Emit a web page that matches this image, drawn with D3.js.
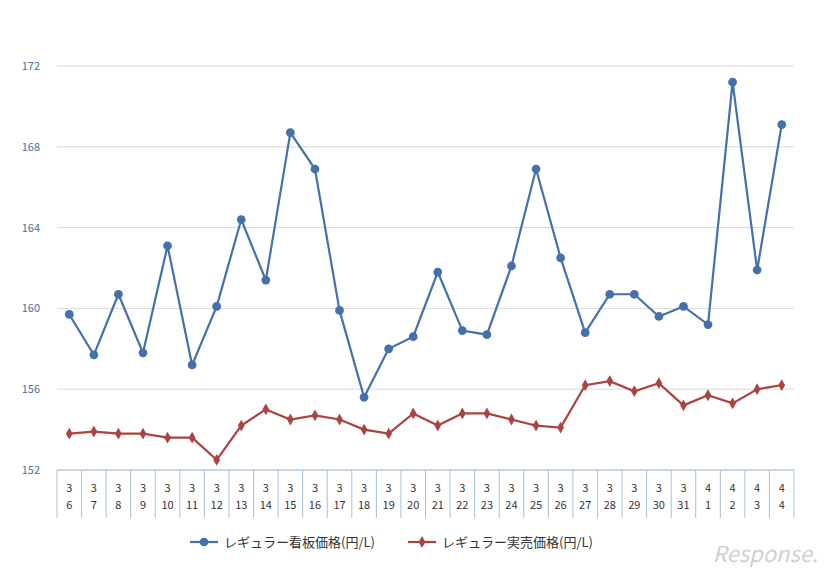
<!DOCTYPE html><html><head><meta charset="utf-8"><script src="https://cdn.jsdelivr.net/npm/d3@7"></script>
<style>body{margin:0;background:#fff}text{font-family:"Noto Sans CJK JP","DejaVu Sans",sans-serif}</style></head><body><svg id="c" width="830" height="575"></svg><script>
const months=[3,3,3,3,3,3,3,3,3,3,3,3,3,3,3,3,3,3,3,3,3,3,3,3,3,3,4,4,4,4];
const days=[6,7,8,9,10,11,12,13,14,15,16,17,18,19,20,21,22,23,24,25,26,27,28,29,30,31,1,2,3,4];
const signPrice=[159.7,157.7,160.7,157.8,163.1,157.2,160.1,164.4,161.4,168.7,166.9,159.9,155.6,158.0,158.6,161.8,158.9,158.7,162.1,166.9,162.5,158.8,160.7,160.7,159.6,160.1,159.2,171.2,161.9,169.1];
const actualPrice=[153.8,153.9,153.8,153.8,153.6,153.6,152.5,154.2,155.0,154.5,154.7,154.5,154.0,153.8,154.8,154.2,154.8,154.8,154.5,154.2,154.1,156.2,156.4,155.9,156.3,155.2,155.7,155.3,156.0,156.2];
const yTicks=[152,156,160,164,168,172];
const seriesNames=["レギュラー看板価格(円/L)","レギュラー実売価格(円/L)"];
const colors=["#4470ab","#aa4443"];
const svg=d3.select("#c");
const L=57,R=794,T=66,B=470;
const idx=d3.range(days.length);
const x=d3.scaleBand().domain(idx).range([L,R]);
const y=d3.scaleLinear().domain([152,172]).range([B,T]);
svg.append("g").selectAll("line").data(yTicks).join("line").attr("x1",L).attr("x2",R).attr("y1",d=>y(d)).attr("y2",d=>y(d)).attr("stroke","#d9d9d9");
svg.append("g").selectAll("text").data(yTicks).join("text").attr("x",40).attr("y",d=>y(d)+4).attr("text-anchor","end").attr("font-size",11).attr("fill","#4a6fa5").text(d=>d);
svg.append("line").attr("x1",L).attr("x2",R).attr("y1",B).attr("y2",B).attr("stroke","#a6c0dd");
svg.append("g").selectAll("line").data(d3.range(days.length+1)).join("line").attr("x1",i=>L+i*x.step()).attr("x2",i=>L+i*x.step()).attr("y1",B).attr("y2",518).attr("stroke","#a6c0dd");
const xl=svg.append("g").selectAll("g").data(idx).join("g");
xl.append("text").attr("x",i=>x(i)+x.bandwidth()/2).attr("y",492).attr("text-anchor","middle").attr("font-size",11).attr("fill","#333").text(i=>months[i]);
xl.append("text").attr("x",i=>x(i)+x.bandwidth()/2).attr("y",509).attr("text-anchor","middle").attr("font-size",11).attr("fill","#333").text(i=>days[i]);
const line=d3.line().x((d,i)=>x(i)+x.bandwidth()/2).y(d=>y(d));
const sym=k=>d3.symbol(k==0?d3.symbolCircle:d3.symbolDiamond,k==0?60:40)();
[signPrice,actualPrice].forEach((s,k)=>{
 svg.append("path").datum(s).attr("d",line).attr("fill","none").attr("stroke",colors[k]).attr("stroke-width",2.2);
 svg.append("g").selectAll("path").data(s).join("path").attr("fill",colors[k])
  .attr("transform",(d,i)=>`translate(${x(i)+x.bandwidth()/2},${y(d)})`).attr("d",sym(k));
});
const lg=[{x:190},{x:408}];
lg.forEach((p,k)=>{
 svg.append("line").attr("x1",p.x).attr("x2",p.x+28).attr("y1",542).attr("y2",542).attr("stroke",colors[k]).attr("stroke-width",2.2);
 svg.append("path").attr("transform",`translate(${p.x+14},542)`).attr("fill",colors[k]).attr("d",sym(k));
 svg.append("text").attr("x",p.x+34).attr("y",547).attr("font-size",13).attr("fill","#333").text(seriesNames[k]);
});
svg.append("text").attr("x",818).attr("y",562).attr("text-anchor","end").attr("font-size",22).attr("font-style","italic").attr("fill","#d0d0d0").attr("font-family","DejaVu Sans").text("Response.");
</script></body></html>
